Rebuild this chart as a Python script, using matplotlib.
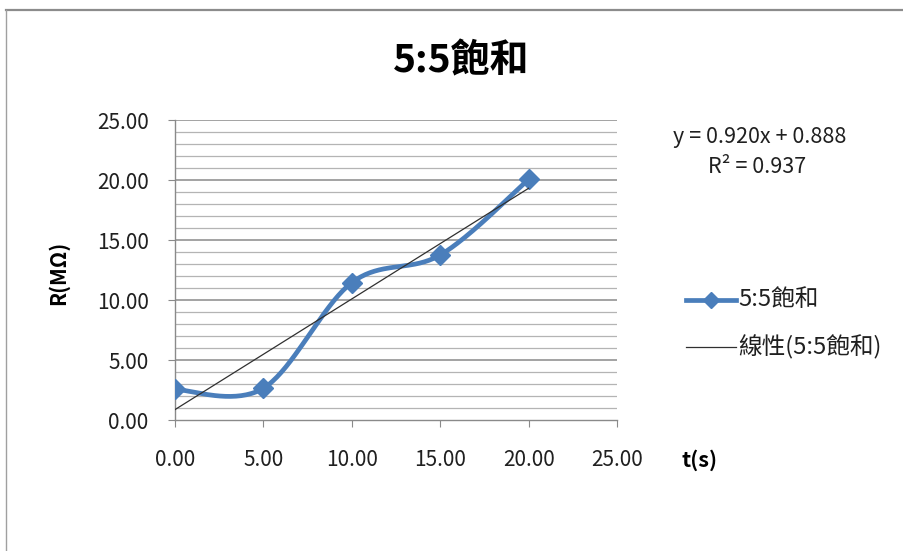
import numpy as np
import matplotlib
matplotlib.use('Agg')
import matplotlib.pyplot as plt
from matplotlib.lines import Line2D

plt.rcParams['font.family'] = ['Noto Sans CJK TC', 'DejaVu Sans']

# data
t_values = [0.0, 5.0, 10.0, 15.0, 20.0]
r_values = [2.55, 2.65, 11.45, 13.75, 20.05]
series_name = '5:5飽和'
trend_name = '線性(5:5飽和)'
eq_text = 'y = 0.920x + 0.888'
r2_text = 'R² = 0.937'
x_ticks = [0, 5, 10, 15, 20, 25]
y_ticks = [0, 5, 10, 15, 20, 25]

blue = '#4A7EBB'


def smooth_curve(xs, ys, n=40):
    # excel-like smoothed line (catmull-rom / bezier)
    pts = np.column_stack([xs, ys])
    out = []
    for i in range(len(pts) - 1):
        p0 = pts[i - 1] if i > 0 else pts[i]
        p1 = pts[i]
        p2 = pts[i + 1]
        p3 = pts[i + 2] if i + 2 < len(pts) else pts[i + 1]
        c1 = p1 + (p2 - p0) / 6.0
        c2 = p2 - (p3 - p1) / 6.0
        s = np.linspace(0, 1, n)[:, None]
        seg = ((1 - s) ** 3) * p1 + 3 * ((1 - s) ** 2) * s * c1 + 3 * (1 - s) * s ** 2 * c2 + s ** 3 * p2
        out.append(seg)
    out = np.vstack(out)
    return out[:, 0], out[:, 1]


fig = plt.figure(figsize=(9.04, 5.51), dpi=100)
ax = fig.add_axes([0.1936, 0.2377, 0.4889, 0.5445])

# frame of the chart area
W, H = 904, 551
fig.add_artist(Line2D([6 / W, 1], [1 - 10 / H, 1 - 10 / H], transform=fig.transFigure, color='#8c8c8c', lw=1.6))
fig.add_artist(Line2D([6 / W, 6 / W], [0, 1 - 10 / H], transform=fig.transFigure, color='#a0a0a0', lw=1.0))

ax.set_xlim(0, 25)
ax.set_ylim(0, 25)

# gridlines
for v in np.arange(1, 26, 1):
    major = (v % 5 == 0)
    ax.axhline(v, color='#8a8a8a' if major else '#b4b4b4', lw=1.1 if major else 0.9, zorder=0)

xs, ys = smooth_curve(t_values, r_values)
ax.plot(xs, ys, color=blue, lw=3.4, zorder=3, solid_capstyle='round')
ax.plot(t_values, r_values, linestyle='none', marker='D', ms=10, color=blue, zorder=4)

k, b = np.polyfit(t_values, r_values, 1)
tx = np.array([min(t_values), max(t_values)])
ax.plot(tx, k * tx + b, color='#303030', lw=0.9, zorder=5)

for s in ['top', 'right']:
    ax.spines[s].set_visible(False)
for s in ['left', 'bottom']:
    ax.spines[s].set_color('#8a8a8a')
    ax.spines[s].set_linewidth(1.0)

ax.set_xticks(x_ticks)
ax.set_yticks(y_ticks)
ax.set_xticklabels(['%.2f' % v for v in x_ticks])
ax.set_yticklabels(['%.2f' % v for v in y_ticks])
ax.tick_params(axis='x', length=5, color='#8a8a8a', pad=16, labelsize=15, labelcolor='#202020')
ax.tick_params(axis='y', length=5, color='#8a8a8a', pad=14, labelsize=15, labelcolor='#202020')

fig.text(461 / W, 1 - 61 / H, series_name, ha='center', va='center', fontsize=28, fontweight='bold')
fig.text(58 / W, 1 - 273 / H, 'R(MΩ)', ha='center', va='center', rotation=90, fontsize=15, fontweight='bold')
fig.text(700 / W, 1 - 460 / H, 't(s)', ha='center', va='center', fontsize=15.5, fontweight='bold')

fig.text(760 / W, 1 - 137 / H, eq_text, ha='center', va='center', fontsize=15.5, color='#202020')
fig.text(757 / W, 1 - 167 / H, r2_text, ha='center', va='center', fontsize=15.5, color='#202020')

# legend
fig.add_artist(Line2D([686 / W, 736 / W], [1 - 300 / H] * 2, transform=fig.transFigure, color=blue, lw=3.4))
fig.add_artist(Line2D([711 / W], [1 - 300 / H], transform=fig.transFigure, color=blue, marker='D', ms=8, linestyle='none'))
fig.text(738 / W, 1 - 300 / H, series_name, ha='left', va='center', fontsize=17, color='#202020')
fig.add_artist(Line2D([686 / W, 736 / W], [1 - 347 / H] * 2, transform=fig.transFigure, color='#303030', lw=0.9))
fig.text(738 / W, 1 - 347 / H, trend_name, ha='left', va='center', fontsize=17, color='#202020')

fig.savefig('out.png', dpi=100)
